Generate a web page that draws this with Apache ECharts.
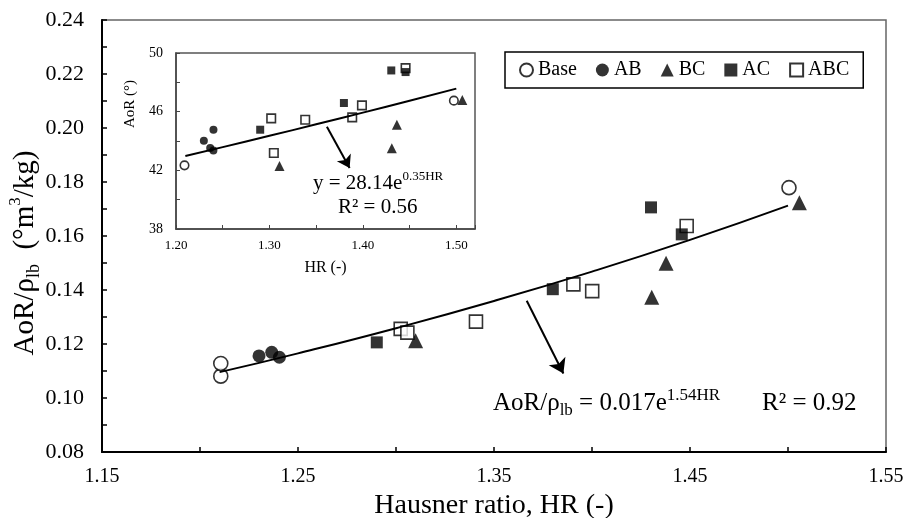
<!DOCTYPE html>
<html>
<head>
<meta charset="utf-8">
<script src="https://cdn.jsdelivr.net/npm/echarts@6/dist/echarts.min.js"></script>
<style>
html, body { margin: 0; padding: 0; background: #fff; }
#chart { width: 908px; height: 518px; }
</style>
</head>
<body>
<div id="chart"></div>
<script>
// Blend groups (legend order)
const groupNames = ['Base', 'AB', 'BC', 'AC', 'ABC'];

// Main panel: [Hausner ratio, AoR/ρlb (°m³/kg)]
const mainBase = [[1.2106, 0.1081], [1.2106, 0.1128], [1.5005, 0.1779]];
const mainAB = [[1.2301, 0.1156], [1.2366, 0.1169], [1.2405, 0.1151]];
const mainBC = [[1.3100, 0.1212], [1.4305, 0.1373], [1.4378, 0.1499], [1.5058, 0.1723]];
const mainAC = [[1.2902, 0.1206], [1.3800, 0.1403], [1.4301, 0.1706], [1.4458, 0.1606]];
const mainABC = [[1.3024, 0.1256], [1.3058, 0.1242], [1.3408, 0.1283], [1.3905, 0.1421], [1.4001, 0.1396], [1.4483, 0.1637]];

// Inset panel: [Hausner ratio, AoR (°)]
const insetBase = [[1.2091, 42.34], [1.4974, 46.75]];
const insetAB = [[1.2298, 44.02], [1.2366, 43.52], [1.2401, 44.77], [1.2400, 43.36]];
const insetBC = [[1.3108, 42.30], [1.4310, 43.50], [1.4364, 45.10], [1.5064, 46.80]];
const insetAC = [[1.2901, 44.77], [1.3797, 46.59], [1.4304, 48.81], [1.4457, 48.70]];
const insetABC = [[1.3019, 45.54], [1.3047, 43.18], [1.3383, 45.45], [1.3886, 45.61], [1.3990, 46.43], [1.4457, 48.97]];

// Exponential fits y = a·e^(b·HR)
const mainFitCoef = [0.017, 1.54];
const mainFitR2 = '0.92';
const insetFitCoef = [28.14, 0.35];
const insetFitR2 = '0.56';
const fitHR = [1.21, 1.25, 1.30, 1.35, 1.40, 1.45, 1.50];

// Arrows pointing from each fit curve to its equation: [[x0, y0], [x1, y1]]
const mainArrow = [[1.3667, 0.1360], [1.3854, 0.1091]];
const insetArrow = [[1.3615, 44.97], [1.3858, 42.16]];

// Tick labels
const mainXLabels = ['1.15', '1.25', '1.35', '1.45', '1.55'];
const mainYLabels = ['0.08', '0.10', '0.12', '0.14', '0.16', '0.18', '0.20', '0.22', '0.24'];
const insetXLabels = ['1.20', '1.30', '1.40', '1.50'];
const insetYLabels = ['38', '42', '46', '50'];

const SERIF = '"Liberation Serif", "Times New Roman", serif';
const INK = '#000';

const styles = {
  Base: { symbol: 'circle', itemStyle: { color: '#fff', borderColor: INK, borderWidth: 1.6 } },
  AB:   { symbol: 'circle', itemStyle: { color: INK } },
  BC:   { symbol: 'triangle', itemStyle: { color: INK } },
  AC:   { symbol: 'rect', itemStyle: { color: INK } },
  ABC:  { symbol: 'rect', itemStyle: { color: '#fff', borderColor: INK, borderWidth: 1.6 } }
};
const mainSizes = { Base: 14, AB: 13, BC: 15, AC: 12, ABC: 13 };
const insetSizes = { Base: 8.5, AB: 8, BC: 10, AC: 8, ABC: 8.5 };
const mainData = { Base: mainBase, AB: mainAB, BC: mainBC, AC: mainAC, ABC: mainABC };
const insetData = { Base: insetBase, AB: insetAB, BC: insetBC, AC: insetAC, ABC: insetABC };
// filled AC squares sit on top of open ABC squares
const drawOrder = ['Base', 'AB', 'BC', 'ABC', 'AC'];

function pickLabel(list, digits) {
  return v => { const s = v.toFixed(digits); return list.includes(s) ? s : ''; };
}

function scatterSeries(name, data, size, axisIdx) {
  return {
    name, type: 'scatter', xAxisIndex: axisIdx, yAxisIndex: axisIdx,
    symbol: styles[name].symbol, symbolSize: size,
    itemStyle: styles[name].itemStyle, data, z: 4
  };
}

function fitSeries(coef, axisIdx, arrow) {
  return {
    type: 'line', xAxisIndex: axisIdx, yAxisIndex: axisIdx,
    data: fitHR.map(h => [h, coef[0] * Math.exp(coef[1] * h)]),
    smooth: true, showSymbol: false, silent: true, z: 5,
    lineStyle: { color: INK, width: 2 },
    markLine: {
      silent: true, symbol: ['none', 'arrow'], symbolSize: axisIdx === 0 ? 14 : 12,
      lineStyle: { color: INK, width: 2, type: 'solid' },
      label: { show: false },
      data: [[{ coord: arrow[0] }, { coord: arrow[1] }]]
    }
  };
}

const series = [];
drawOrder.forEach(n => series.push(scatterSeries(n, mainData[n], mainSizes[n], 0)));
series.push(fitSeries(mainFitCoef, 0, mainArrow));
drawOrder.forEach(n => series.push(scatterSeries(n, insetData[n], insetSizes[n], 1)));
series.push(fitSeries(insetFitCoef, 1, insetArrow));

const tickLabelBase = { color: INK, fontFamily: SERIF };

const option = {
  animation: false,
  backgroundColor: '#fff',
  grid: [
    { left: 102, top: 20, right: 22, bottom: 66, show: true, borderColor: '#666', borderWidth: 1.5,
      containLabel: false, outerBoundsMode: 'none' },
    { left: 176, top: 53, width: 299, height: 176, show: true, borderColor: '#555', borderWidth: 1.5,
      backgroundColor: '#fff', containLabel: false, outerBoundsMode: 'none' }
  ],
  xAxis: [
    {
      type: 'value', gridIndex: 0, min: 1.15, max: 1.55, interval: 0.05,
      axisLine: { show: true, lineStyle: { color: INK, width: 2 } },
      axisTick: { show: true, inside: true, length: 5, lineStyle: { color: INK, width: 1.5 } },
      axisLabel: Object.assign({ fontSize: 20, margin: 15, formatter: pickLabel(mainXLabels, 2) }, tickLabelBase),
      splitLine: { show: false },
      name: 'Hausner ratio, HR (-)', nameLocation: 'middle', nameGap: 28,
      nameTextStyle: { fontSize: 28, fontFamily: SERIF, color: INK }
    },
    {
      type: 'value', gridIndex: 1, min: 1.20, max: 1.52, interval: 0.05,
      axisLine: { show: true, lineStyle: { color: '#444', width: 1.5 } },
      axisTick: { show: true, inside: true, length: 4, lineStyle: { color: '#444', width: 1 } },
      axisLabel: Object.assign({ fontSize: 13, margin: 10, formatter: pickLabel(insetXLabels, 2) }, tickLabelBase),
      splitLine: { show: false },
      name: 'HR (-)', nameLocation: 'middle', nameGap: 31,
      nameTextStyle: { fontSize: 16, fontFamily: SERIF, color: INK }
    }
  ],
  yAxis: [
    {
      type: 'value', gridIndex: 0, min: 0.08, max: 0.24, interval: 0.01,
      axisLine: { show: true, lineStyle: { color: INK, width: 2 } },
      axisTick: { show: true, inside: true, length: 5, lineStyle: { color: INK, width: 1.5 } },
      axisLabel: Object.assign({ fontSize: 22, margin: 18, formatter: pickLabel(mainYLabels, 2) }, tickLabelBase),
      splitLine: { show: false }
    },
    {
      type: 'value', gridIndex: 1, min: 38, max: 50, interval: 2,
      axisLine: { show: true, lineStyle: { color: '#444', width: 1.5 } },
      axisTick: { show: true, inside: true, length: 4, lineStyle: { color: '#444', width: 1 } },
      axisLabel: Object.assign({ fontSize: 14, margin: 13, formatter: pickLabel(insetYLabels, 0) }, tickLabelBase),
      splitLine: { show: false }
    }
  ],
  legend: {
    data: groupNames, left: 505, top: 52, orient: 'horizontal',
    itemGap: 19, itemWidth: 13, itemHeight: 13, padding: [8, 14],
    borderColor: INK, borderWidth: 1.5, selectedMode: false,
    textStyle: { fontFamily: SERIF, fontSize: 20, color: INK }
  },
  graphic: [
    {
      type: 'text', x: 25, y: 253, rotation: Math.PI / 2,
      style: {
        text: '{a|AoR/ρ}{b|lb}{a|  (°m}{c|3}{a|/kg)}',
        align: 'center', verticalAlign: 'middle',
        rich: {
          a: { fontSize: 29, fontFamily: SERIF, fill: INK, lineHeight: 36 },
          b: { fontSize: 18, fontFamily: SERIF, fill: INK, lineHeight: 18, verticalAlign: 'bottom' },
          c: { fontSize: 17, fontFamily: SERIF, fill: INK, lineHeight: 17, verticalAlign: 'top' }
        }
      }
    },
    {
      type: 'text', x: 130, y: 104, rotation: Math.PI / 2,
      style: {
        text: 'AoR (°)', align: 'center', verticalAlign: 'middle',
        fontSize: 15, fontFamily: SERIF, fill: INK
      }
    },
    {
      type: 'text', x: 493, y: 403,
      style: {
        text: '{a|AoR/ρ}{b|lb}{a| = ' + mainFitCoef[0] + 'e}{c|' + mainFitCoef[1] + 'HR}',
        align: 'left', verticalAlign: 'middle',
        rich: {
          a: { fontSize: 25, fontFamily: SERIF, fill: INK, lineHeight: 32 },
          b: { fontSize: 17, fontFamily: SERIF, fill: INK, lineHeight: 17, verticalAlign: 'bottom' },
          c: { fontSize: 17, fontFamily: SERIF, fill: INK, lineHeight: 17, verticalAlign: 'top' }
        }
      }
    },
    {
      type: 'text', x: 762, y: 403,
      style: {
        text: 'R² = ' + mainFitR2, align: 'left', verticalAlign: 'middle',
        fontSize: 25, fontFamily: SERIF, fill: INK
      }
    },
    {
      type: 'text', x: 313, y: 183,
      style: {
        text: '{a|y = ' + insetFitCoef[0] + 'e}{c|' + insetFitCoef[1] + 'HR}',
        align: 'left', verticalAlign: 'middle',
        rich: {
          a: { fontSize: 21, fontFamily: SERIF, fill: INK, lineHeight: 26 },
          c: { fontSize: 13, fontFamily: SERIF, fill: INK, lineHeight: 13, verticalAlign: 'top' }
        }
      }
    },
    {
      type: 'text', x: 338, y: 207,
      style: {
        text: 'R² = ' + insetFitR2, align: 'left', verticalAlign: 'middle',
        fontSize: 21, fontFamily: SERIF, fill: INK
      }
    }
  ],
  series
};

const chart = echarts.init(document.getElementById('chart'), null, { renderer: 'canvas' });
chart.setOption(option);
</script>
</body>
</html>
